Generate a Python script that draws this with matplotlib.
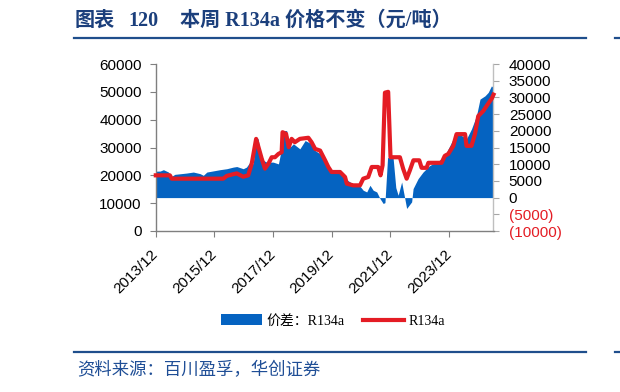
import matplotlib
matplotlib.use("Agg")
import matplotlib.pyplot as plt
from matplotlib.lines import Line2D
from matplotlib.patches import Patch
from matplotlib.ticker import FuncFormatter

# ---------------- data ----------------
# price spread (right axis), decimal-year dates
spread_t = [2013.92, 2014.07, 2014.18, 2014.35, 2014.46, 2014.57, 2014.97, 2015.20, 2015.43, 2015.54,
            2015.66, 2016.11, 2016.34, 2016.56, 2016.68, 2016.90, 2017.01, 2017.13, 2017.24, 2017.33,
            2017.41, 2017.47, 2017.59, 2017.70, 2017.92, 2018.10, 2018.18, 2018.27, 2018.38, 2018.49,
            2018.61, 2018.83, 2019.01, 2019.23, 2019.35, 2019.52, 2019.75, 2019.92, 2020.20, 2020.37,
            2020.54, 2020.71, 2020.88, 2020.99, 2021.11, 2021.22, 2021.33, 2021.45, 2021.56, 2021.67,
            2021.73, 2021.82, 2022.01, 2022.10, 2022.18, 2022.30, 2022.47, 2022.64, 2022.69, 2022.86,
            2023.03, 2023.26, 2023.49, 2023.66, 2023.83, 2024.00, 2024.17, 2024.34, 2024.51, 2024.68,
            2024.85, 2024.97, 2025.14, 2025.25, 2025.36, 2025.43]
spread_v = [7900, 7950, 8360, 7650, 6370, 6960, 7350, 7650, 7170, 6670,
            7650, 8360, 8650, 9130, 9300, 8650, 9130, 10620, 10100, 17880,
            17580, 14100, 11130, 10620, 10620, 10100, 13600, 20060, 20060, 15090,
            16100, 14600, 17080, 16100, 14100, 13110, 9640, 8150, 7160, 5680,
            4680, 3690, 3390, 2200, 1700, 3690, 2200, 1700, -270, -1760,
            -1500, 12000, 11700, 3000, 710, 4680, -3250, -1280, 2700, 5680,
            7660, 9640, 10600, 11640, 13600, 16580, 19550, 18600, 17590, 20560,
            24520, 29490, 30470, 31500, 33450, 32900]

# R134a price (left axis)
price_t = [2013.92, 2014.40, 2014.46, 2016.22, 2016.34, 2016.56, 2016.68, 2016.90, 2017.07, 2017.19,
           2017.34, 2017.45, 2017.53, 2017.64, 2017.76, 2017.87, 2017.98, 2018.10, 2018.21, 2018.24,
           2018.36, 2018.45, 2018.55, 2018.66, 2018.83, 2019.12, 2019.23, 2019.35, 2019.52, 2019.69,
           2019.80, 2019.91, 2020.20, 2020.37, 2020.43, 2020.65, 2020.88, 2020.99, 2021.16, 2021.28,
           2021.50, 2021.58, 2021.65, 2021.73, 2021.84, 2021.92, 2022.24, 2022.35, 2022.47, 2022.58,
           2022.70, 2022.90, 2022.98, 2023.15, 2023.21, 2023.66, 2023.77, 2023.89, 2024.06, 2024.17,
           2024.46, 2024.51, 2024.68, 2024.80, 2024.91, 2025.08, 2025.20, 2025.37, 2025.43]
price_v = [20000, 20000, 18800, 18800, 19800, 20400, 20700, 19500, 20000, 24200,
           33100, 29000, 26000, 22400, 24200, 26500, 26500, 27700, 28300, 35500,
           34900, 30100, 33100, 31900, 33100, 33500, 31900, 29500, 28900, 25400,
           23000, 21200, 21200, 19400, 17000, 16400, 16400, 18800, 19400, 23000,
           23000, 20000, 23600, 49700, 50000, 26500, 26500, 22400, 18800, 21800,
           25400, 25400, 22700, 22700, 24500, 24500, 27000, 27700, 30600, 34800,
           34800, 30600, 30600, 34900, 41300, 43100, 45000, 47600, 49000]

x_tick_pos = [2013.917, 2015.917, 2017.917, 2019.917, 2021.917, 2023.917]
x_tick_labels = ["2013/12", "2015/12", "2017/12", "2019/12", "2021/12", "2023/12"]
left_ticks = [0, 10000, 20000, 30000, 40000, 50000, 60000]
right_ticks = [-10000, -5000, 0, 5000, 10000, 15000, 20000, 25000, 30000, 35000, 40000]

title_parts = ["图表", "120", "本周 R134a 价格不变（元/吨）"]
source = "资料来源：百川盈孚，华创证券"
legend_labels = ["价差：R134a", "R134a"]

# ---------------- style ----------------
BLUE = "#0563C1"
RED = "#E41C24"
NAVY = "#1B3F7C"
W, H = 620, 392

fig = plt.figure(figsize=(W / 100, H / 100), dpi=100)
fig.patch.set_facecolor("white")

left, right, top, bottom = 155.7, 493.5, 64, 231
ax = fig.add_axes([left / W, 1 - bottom / H, (right - left) / W, (bottom - top) / H])
ax2 = ax.twinx()

# blue spread on right axis
ax2.fill_between(spread_t, 0, spread_v, color=BLUE, linewidth=0)
ax2.set_ylim(-10000, 40000)
ax2.set_yticks(right_ticks)

def rfmt(v, pos):
    v = int(round(v))
    return f"({abs(v)})" if v < 0 else f"{v}"

ax2.yaxis.set_major_formatter(FuncFormatter(rfmt))

# red price on left axis
ax.plot(price_t, price_v, color=RED, linewidth=3.0, solid_joinstyle="round", clip_on=False, zorder=3)
ax.set_ylim(0, 60000)
ax.set_yticks(left_ticks)
ax.set_xlim(2013.917, 2025.43)
ax.set_xticks(x_tick_pos)
ax.set_xticklabels(x_tick_labels)

ax.set_zorder(ax2.get_zorder() + 1)
ax.patch.set_visible(False)

for a in (ax, ax2):
    for lab in a.get_yticklabels():
        lab.set_fontfamily("Liberation Sans")
        lab.set_fontsize(11)
for lab in ax.get_xticklabels():
    lab.set_fontfamily("Liberation Sans")
    lab.set_fontsize(11)
    lab.set_rotation(45)
    lab.set_ha("right")
    lab.set_va("center")
    lab.set_rotation_mode("anchor")

for lab, v in zip(ax2.get_yticklabels(), right_ticks):
    lab.set_color(RED if v < 0 else "black")

ax.tick_params(axis="y", direction="out", length=4, width=0.8, color="#808080", pad=6)
ax.tick_params(axis="x", direction="out", length=4, width=0.8, color="#808080", pad=11)
ax2.tick_params(axis="y", direction="out", length=4, width=0.8, color="#A6A6A6", pad=7)

for a in (ax, ax2):
    a.spines["top"].set_visible(False)
ax.spines["right"].set_visible(False)
ax2.spines["left"].set_visible(False)
ax2.spines["bottom"].set_visible(False)
ax.spines["left"].set_color("#7F7F7F")
ax.spines["bottom"].set_color("#7F7F7F")
ax2.spines["right"].set_color("#BFBFBF")
for s in ("left", "bottom"):
    ax.spines[s].set_linewidth(1.0)
ax2.spines["right"].set_linewidth(1.0)

# legend
handles = [Patch(facecolor=BLUE, edgecolor="none"),
           Line2D([0], [0], color=RED, linewidth=3)]
fig.legend(handles, legend_labels, loc="center", bbox_to_anchor=(333 / W, 1 - 321 / H),
           ncol=2, frameon=False, handlelength=2.95, handleheight=0.8, handletextpad=0.35,
           columnspacing=1.3, prop=dict(family=["Liberation Serif", "Noto Sans CJK SC"], size=10))

# title & rules
for part, xpx in zip(title_parts, (75, 128, 180)):
    fig.text(xpx / W, 1 - 20.5 / H, part, color=NAVY, fontsize=14.5, fontweight="bold",
             family=["Liberation Serif", "Noto Sans CJK SC"], va="center", ha="left")
for y in (37.7, 351.5):
    fig.add_artist(Line2D([74 / W, 586 / W], [1 - y / H, 1 - y / H], color="#1F4E8C", linewidth=1.6))
    fig.add_artist(Line2D([615 / W, 1.0], [1 - y / H, 1 - y / H], color="#1F4E8C", linewidth=1.6))

fig.text(77 / W, 1 - 370 / H, source, color="#1F4E96", fontsize=12.5, style="italic",
         family=["Noto Sans CJK SC", "DejaVu Sans"], va="center", ha="left")

fig.savefig("out.png", dpi=100, facecolor="white")
